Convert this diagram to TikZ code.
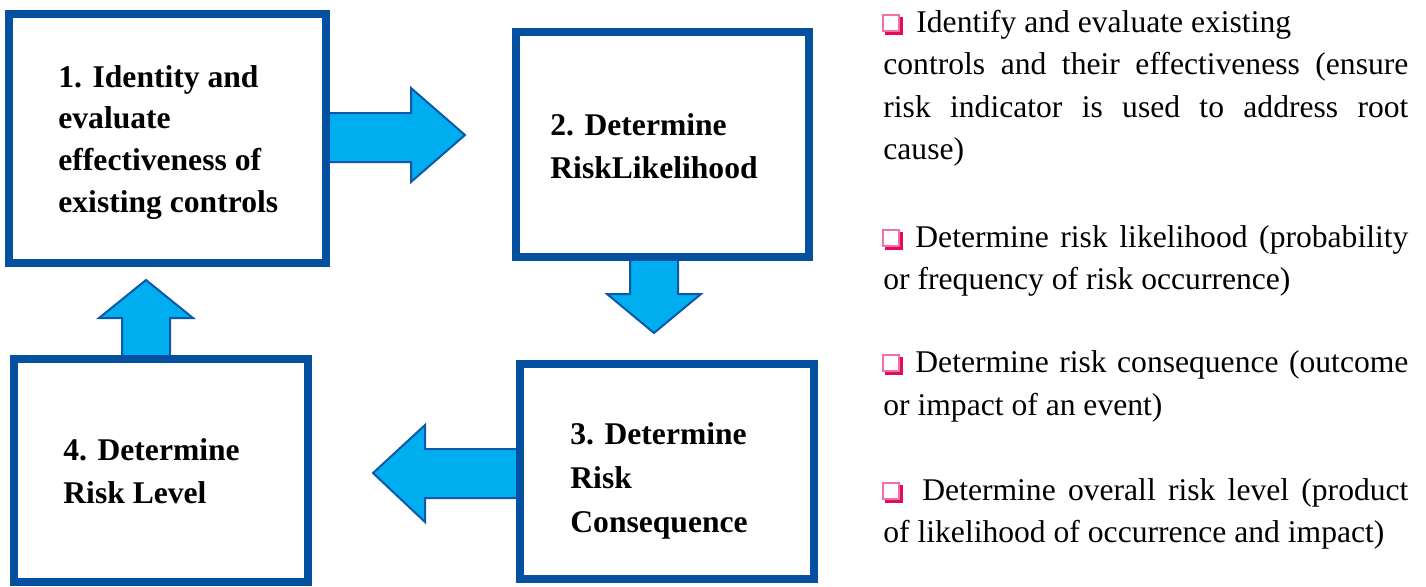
\documentclass[tikz,border=0pt]{standalone}
\usepackage{fontspec}
\setmainfont{Liberation Serif}
\definecolor{boxblue}{HTML}{0650A2}
\definecolor{arrfill}{HTML}{00AEEF}
\definecolor{arrline}{HTML}{0D58A8}
\definecolor{bulline}{HTML}{F070A8}
\definecolor{bulshadow}{HTML}{E8085E}
\begin{document}
\begin{tikzpicture}[x=0.5pt,y=-0.5pt,
  stepbox/.style={draw=boxblue, line width=4pt, fill=white, rectangle, inner sep=0pt},
  boxtext/.style={anchor=base west, inner sep=0pt, font=\fontsize{15.8}{19}\selectfont\bfseries},
  bodytext/.style={anchor=base west, inner sep=0pt, font=\fontsize{15.8}{19}\selectfont},
  blockarrow/.style={fill=arrfill, draw=arrline, line width=1pt, line join=miter},
  bul/.pic={
    \draw[bulshadow, line width=2pt] (2,17.5) -- (17.5,17.5) -- (17.5,2);
    \draw[bulline, line width=0.8pt] (0,0) rectangle (16,16);
  }]
\useasboundingbox (0,0) rectangle (1426,586);

% block arrows
\draw[blockarrow] (326,113) -- (411,113) -- (411,88) -- (465,135) -- (411,182) -- (411,162) -- (326,162) -- cycle;
\draw[blockarrow] (630,257) -- (630,294) -- (607,294) -- (654,333) -- (701,294) -- (678,294) -- (678,257) -- cycle;
\draw[blockarrow] (520,449) -- (425,449) -- (425,425) -- (373,473) -- (425,522) -- (425,498) -- (520,498) -- cycle;
\draw[blockarrow] (122,359) -- (122,318) -- (99,318) -- (146,280) -- (193,318) -- (170,318) -- (170,359) -- cycle;

% boxes
\node[stepbox, minimum width=158.5pt, minimum height=124.5pt] (b1) at (167.5,138.5) {};
\node[stepbox, minimum width=146.5pt, minimum height=112.5pt] (b2) at (662.5,144.5) {};
\node[stepbox, minimum width=147pt, minimum height=107.5pt] (b3) at (667,471.5) {};
\node[stepbox, minimum width=147pt, minimum height=111.5pt] (b4) at (161,470.5) {};

% box texts
\node[boxtext] (t1a) at (58,87) {1. Identity and};
\node[boxtext] (t1b) at (58,128) {evaluate};
\node[boxtext] (t1c) at (58,170) {effectiveness of};
\node[boxtext] (t1d) at (58,212) {existing controls};
\node[boxtext] (t2a) at (550,135) {2. Determine};
\node[boxtext] (t2b) at (550,178) {RiskLikelihood};
\node[boxtext] (t3a) at (570,444) {3. Determine};
\node[boxtext] (t3b) at (570,488) {Risk};
\node[boxtext] (t3c) at (570,532) {Consequence};
\node[boxtext] (t4a) at (63,460) {4. Determine};
\node[boxtext] (t4b) at (63,503) {Risk Level};

% bullets
\pic at (883,15) {bul};
\pic at (883,230) {bul};
\pic at (883,355) {bul};
\pic at (883,483) {bul};

% right texts
\node[bodytext] (r1a) at (916,32) {Identify and evaluate existing};
\node[bodytext] (r1b) at (883,74) {\makebox[262.5pt][s]{controls and their effectiveness (ensure}};
\node[bodytext] (r1c) at (883,117) {\makebox[262.5pt][s]{risk indicator is used to address root}};
\node[bodytext] (r1d) at (883,159) {cause)};
\node[bodytext] (r2a) at (915,247) {\makebox[246.5pt][s]{Determine risk likelihood (probability}};
\node[bodytext] (r2b) at (883,289) {or frequency of risk occurrence)};
\node[bodytext] (r3a) at (915,372) {\makebox[246.5pt][s]{Determine risk consequence (outcome}};
\node[bodytext] (r3b) at (883,415) {or impact of an event)};
\node[bodytext] (r4a) at (922,500) {\makebox[243pt][s]{Determine overall risk level (product}};
\node[bodytext] (r4b) at (883,542) {of likelihood of occurrence and impact)};
\end{tikzpicture}
\end{document}
